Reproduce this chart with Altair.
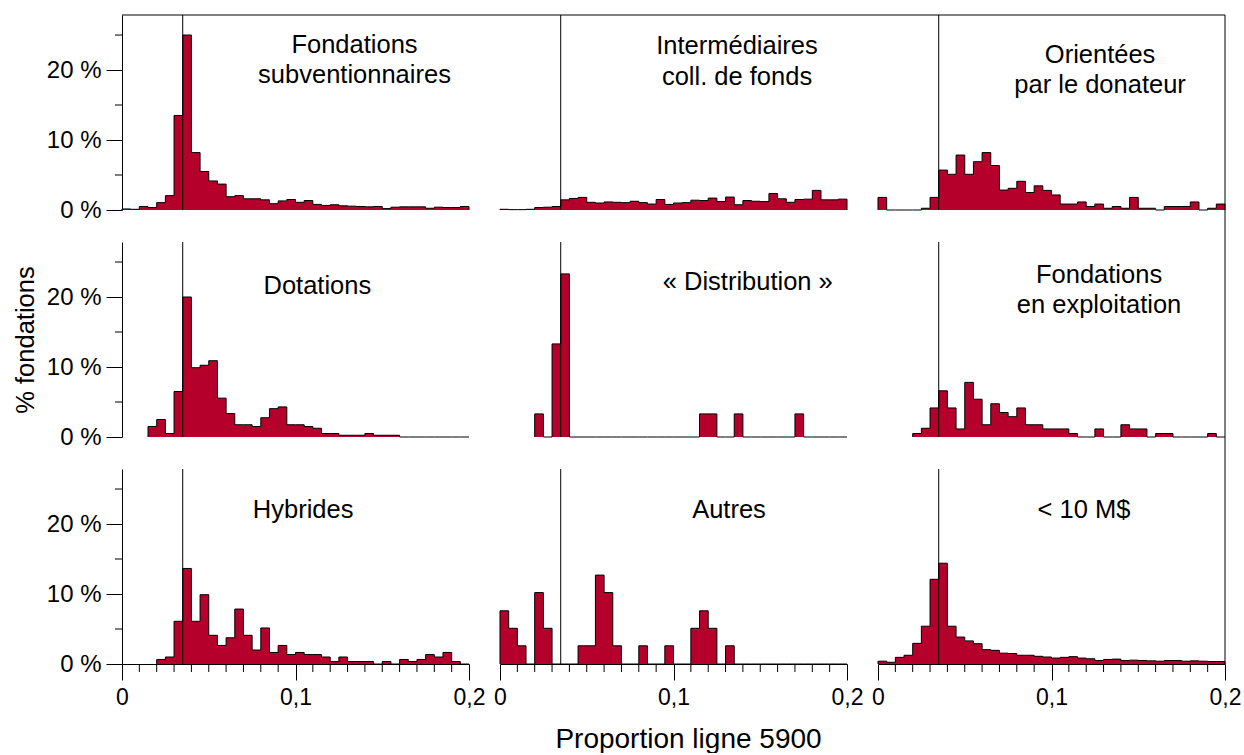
import altair as alt
import pandas as pd

# Histograms of the share reported on line 5900, by foundation type.
# 40 bins of width 0.005 from 0 to 0.2; values are % of foundations per bin.
BIN_WIDTH = 0.005
N_BINS = 40
QUOTA = 0.035          # disbursement quota (3.5 %)
PANEL_W, PANEL_H = 347, 195
GAP_X, GAP_Y = 31, 32
Y_TOP = 27.86
FILL = "#B4002A"
FONT = "Liberation Sans"

grant = [0.15, 0.1, 0.5, 0.35, 1.05, 2.05, 13.5, 25.0, 8.2, 5.5,
         4.15, 3.7, 1.9, 2.05, 1.6, 1.6, 1.45, 0.9, 1.3, 1.5,
         1.1, 1.35, 0.8, 0.65, 0.75, 0.6, 0.55, 0.5, 0.45, 0.5,
         0.2, 0.4, 0.45, 0.45, 0.45, 0.25, 0.4, 0.35, 0.35, 0.5]
fundraising = [0.1, 0.05, 0.05, 0.1, 0.35, 0.4, 0.5, 1.45, 1.65, 1.8,
               1.1, 1.0, 1.15, 1.1, 1.05, 1.25, 1.05, 0.85, 1.5, 0.8,
               1.0, 1.05, 1.4, 1.35, 1.7, 1.2, 1.85, 0.75, 1.35, 1.25,
               1.2, 2.35, 1.6, 1.1, 1.5, 1.55, 2.8, 1.45, 1.45, 1.55]
donor = [1.8, 0, 0, 0, 0, 0.25, 1.8, 5.7, 5.1, 7.85,
         5.1, 6.9, 8.2, 6.35, 2.85, 3.1, 4.1, 2.5, 3.45, 2.8,
         2.15, 0.85, 0.85, 1.15, 0.5, 0.85, 0.25, 0.5, 0.25, 1.8,
         0.25, 0.25, 0, 0.5, 0.5, 0.5, 1.15, 0, 0.25, 0.85]
endowment = [0, 0, 0, 1.5, 2.5, 0.5, 6.5, 20.0, 9.9, 10.25,
             10.9, 5.55, 3.35, 1.75, 1.75, 1.5, 2.75, 4.05, 4.3, 1.75,
             1.75, 1.5, 1.25, 0.5, 0.5, 0.25, 0.25, 0.25, 0.5, 0.25,
             0.25, 0.25, 0, 0, 0, 0, 0, 0, 0, 0]
distribution = [0, 0, 0, 0, 3.3, 0, 13.3, 23.3, 0, 0,
                0, 0, 0, 0, 0, 0, 0, 0, 0, 0,
                0, 0, 0, 3.3, 3.3, 0, 0, 3.3, 0, 0,
                0, 0, 0, 0, 3.3, 0, 0, 0, 0, 0]
operating = [0, 0, 0, 0, 0.5, 1.25, 4.15, 6.6, 4.15, 1.15,
             7.8, 5.4, 1.75, 4.75, 3.5, 2.9, 4.15, 1.75, 1.75, 1.15,
             1.15, 1.15, 0.5, 0, 0, 1.15, 0, 0, 1.75, 1.15,
             1.15, 0, 0.5, 0.5, 0, 0, 0, 0, 0.5, 0]
hybrid = [0, 0, 0, 0, 0.65, 1.0, 6.1, 13.65, 6.1, 9.9,
          4.1, 2.65, 3.75, 7.85, 4.1, 2.0, 5.15, 1.65, 2.65, 1.35,
          1.65, 1.35, 1.35, 1.0, 0.35, 1.0, 0.35, 0.35, 0.35, 0,
          0.35, 0, 0.65, 0.35, 0.65, 1.35, 1.0, 1.65, 0.35, 0]
other = [7.6, 5.1, 2.6, 0, 10.2, 5.1, 0, 0, 0, 2.6,
         2.6, 12.7, 10.2, 2.6, 0, 0, 2.6, 0, 0, 2.6,
         0, 0, 5.1, 7.6, 5.1, 0, 2.6, 0, 0, 0,
         0, 0, 0, 0, 0, 0, 0, 0, 0, 0]
small = [0.4, 0.25, 0.95, 1.25, 2.95, 5.4, 12.1, 14.4, 5.4, 3.85,
         3.3, 2.9, 2.05, 1.95, 1.55, 1.5, 1.25, 1.25, 1.1, 1.0,
         0.85, 0.95, 1.05, 0.85, 0.75, 0.5, 0.65, 0.7, 0.5, 0.55,
         0.5, 0.45, 0.4, 0.5, 0.5, 0.4, 0.45, 0.4, 0.35, 0.35]

series = [grant, fundraising, donor, endowment, distribution, operating,
          hybrid, other, small]
panel_names = [
    ["Fondations", "subventionnaires"],
    ["Intermédiaires", "coll. de fonds"],
    ["Orientées", "par le donateur"],
    ["Dotations"],
    ["« Distribution »"],
    ["Fondations", "en exploitation"],
    ["Hybrides"],
    ["Autres"],
    ["< 10 M$"],
]
# Anchor of each panel name: centre x (share) and baseline of each line (%)
name_x = [0.134, 0.1366, 0.128, 0.1126, 0.1428, 0.1274, 0.1044, 0.132, 0.1187]
name_y = [[22.4, 18.1], [22.3, 17.9], [21.0, 16.7], [20.4], [21.0],
          [22.0, 17.7], [20.8], [20.8], [20.8]]

y_major = [0, 10, 20]
y_minor = [5, 15, 25]
x_major = [0, 0.1, 0.2]
x_minor = [k / 100 for k in range(1, 20) if k != 10]

X_SCALE = alt.Scale(domain=[0, N_BINS * BIN_WIDTH], nice=False, zero=False)
Y_SCALE = alt.Scale(domain=[0, Y_TOP], nice=False)

AXIS_STYLE = dict(
    tickSize=16, tickWidth=1, tickColor="black", domainColor="black",
    domainWidth=1, labelColor="black", labelFont=FONT,
    labelFlush=False, labelOverlap=False, labelBound=False, grid=False,
    titleFont=FONT, titleFontWeight="normal", titleColor="black",
)


def first_bin(values):
    return next(i for i, v in enumerate(values) if v > 0)


def steps_frame(values):
    f = first_bin(values)
    xs = [i * BIN_WIDTH for i in range(f, N_BINS)] + [N_BINS * BIN_WIDTH]
    ys = list(values[f:]) + [values[-1]]
    return pd.DataFrame({"x": xs, "y": ys})


def outline_frame(values):
    f = first_bin(values)
    pts = [(f * BIN_WIDTH, 0.0)]
    for i in range(f, N_BINS):
        pts.append((i * BIN_WIDTH, values[i]))
        pts.append(((i + 1) * BIN_WIDTH, values[i]))
    pts.append((N_BINS * BIN_WIDTH, 0.0))
    return pd.DataFrame({"x": [p[0] for p in pts],
                         "y": [p[1] for p in pts],
                         "k": list(range(len(pts)))})


def panel(idx):
    row, col = divmod(idx, 3)
    values = series[idx]

    x_axis = None
    if row == 2:
        x_opts = dict(
            values=x_major,
            labelExpr="replace(format(datum.value, '.1~f'), '.', ',')",
            labelPadding=6, labelFontSize=23,
            **AXIS_STYLE,
        )
        if col == 1:
            x_axis = alt.Axis(title="Proportion ligne 5900", titlePadding=16,
                              titleFontSize=28, titleX=188, **x_opts)
        else:
            x_axis = alt.Axis(title=None, **x_opts)
    y_axis = None
    if col == 0:
        y_opts = dict(
            values=y_major,
            labelExpr="datum.value + ' %'",
            labelPadding=5, labelFontSize=24,
            **AXIS_STYLE,
        )
        if row == 1:
            y_axis = alt.Axis(title="% fondations", titlePadding=8,
                              titleFontSize=25.5, **y_opts)
        else:
            y_axis = alt.Axis(title=None, **y_opts)

    def xenc():
        return alt.X("x:Q", scale=X_SCALE, axis=x_axis)

    def yenc():
        return alt.Y("y:Q", scale=Y_SCALE, axis=y_axis, stack=None)

    area = alt.Chart(steps_frame(values)).mark_area(
        interpolate="step-after", color=FILL, opacity=1
    ).encode(x=xenc(), y=yenc())

    outline = alt.Chart(outline_frame(values)).mark_line(
        color="black", strokeWidth=1, strokeJoin="miter"
    ).encode(x=xenc(), y=yenc(), order="k:Q")

    quota = alt.Chart(pd.DataFrame({"x": [QUOTA]})).mark_rule(
        color="black", strokeWidth=1
    ).encode(x=xenc())

    names = panel_names[idx]
    name_df = pd.DataFrame({
        "x": [name_x[idx]] * len(names),
        "y": name_y[idx],
        "t": names,
    })
    text = alt.Chart(name_df).mark_text(
        font=FONT, fontSize=25.5, align="center", baseline="alphabetic",
        color="black"
    ).encode(x=xenc(), y=yenc(), text="t:N")

    layers = [area, outline, quota, text]
    one = pd.DataFrame({"d": [0]})

    if row == 0:
        layers.append(alt.Chart(one).mark_rule(color="black", strokeWidth=1).encode(
            x=alt.value(0),
            x2=alt.value(PANEL_W + (GAP_X if col < 2 else 0)),
            y=alt.value(0),
        ))
    if col == 2:
        layers.append(alt.Chart(one).mark_rule(color="black", strokeWidth=1).encode(
            x=alt.value(PANEL_W),
            y=alt.value(0),
            y2=alt.value(PANEL_H + (GAP_Y if row < 2 else 0)),
        ))
    if col == 0:
        layers.append(alt.Chart(pd.DataFrame({"y": y_minor})).mark_rule(
            color="black", strokeWidth=1
        ).encode(y=yenc(), x=alt.value(-7), x2=alt.value(0)))
    if row == 2:
        layers.append(alt.Chart(pd.DataFrame({"x": x_minor})).mark_rule(
            color="black", strokeWidth=1
        ).encode(x=xenc(), y=alt.value(PANEL_H), y2=alt.value(PANEL_H + 8)))

    return alt.layer(*layers).properties(width=PANEL_W, height=PANEL_H)


chart = (
    alt.concat(*[panel(i) for i in range(9)], columns=3,
               spacing={"row": GAP_Y, "column": GAP_X}, bounds="flush")
    .properties(padding={"left": 13, "top": 14, "right": 0, "bottom": 0})
    .configure(font=FONT)
    .configure_view(stroke=None)
)

chart.save("out.html", embed_options={"renderer": "svg", "actions": False})
